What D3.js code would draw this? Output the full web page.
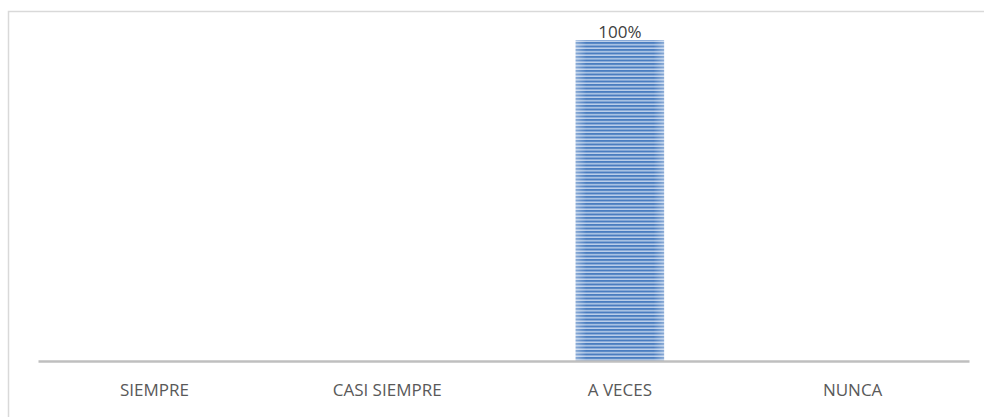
<!DOCTYPE html>
<html>
<head>
<meta charset="utf-8">
<script src="https://cdn.jsdelivr.net/npm/d3@7"></script>
<style>
  body { margin: 0; background: #fff; }
  svg { display: block; }
</style>
</head>
<body>
<div id="chart"></div>
<script>
const categories = ['SIEMPRE', 'CASI SIEMPRE', 'A VECES', 'NUNCA'];
const values = [0, 0, 1, 0];
const valueLabels = ['', '', '100%', ''];

const W = 984, H = 417;
const margin = {top: 40, left: 38, right: 15, bottom: 56};

const svg = d3.select('#chart')
              .append('svg')
              .attr('width', W)
              .attr('height', H);

// striped fill like the office chart
const defs = svg.append('defs');
const grad = defs.append('linearGradient').attr('id', 'shade')
                 .attr('x1', '0').attr('x2', '1').attr('y1', '0').attr('y2', '0');
grad.append('stop').attr('offset', '0%').attr('stop-color', '#fff').attr('stop-opacity', 0.35);
grad.append('stop').attr('offset', '12%').attr('stop-color', '#fff').attr('stop-opacity', 0);
grad.append('stop').attr('offset', '88%').attr('stop-color', '#fff').attr('stop-opacity', 0);
grad.append('stop').attr('offset', '100%').attr('stop-color', '#fff').attr('stop-opacity', 0.35);

const pat = defs.append('pattern').attr('id', 'stripes')
                .attr('patternUnits', 'userSpaceOnUse')
                .attr('width', 10).attr('height', 3.5);
pat.append('rect').attr('width', 10).attr('height', 3.5).attr('fill', '#bcd0ea');
pat.append('rect').attr('width', 10).attr('height', 2).attr('fill', '#4a7dc0');

// outer frame
svg.append('rect')
   .attr('x', 8.5).attr('y', 11.5)
   .attr('width', 1000).attr('height', 500)
   .attr('fill', 'none')
   .attr('stroke', '#d9d9d9')
   .attr('stroke-width', 1.5);

const x = d3.scaleBand()
            .domain(categories)
            .range([margin.left, W - margin.right])
            .paddingInner(0.62)
            .paddingOuter(0.31);

const y = d3.scaleLinear()
            .domain([0, 1])
            .range([H - margin.bottom, margin.top]);

const bars = svg.append('g');
bars.selectAll('rect.bar')
    .data(values)
    .join('rect')
    .attr('class', 'bar')
    .attr('x', (d, i) => x(categories[i]))
    .attr('y', d => y(d))
    .attr('width', x.bandwidth())
    .attr('height', d => y(0) - y(d))
    .attr('fill', 'url(#stripes)');
bars.selectAll('rect.shade')
    .data(values)
    .join('rect')
    .attr('class', 'shade')
    .attr('x', (d, i) => x(categories[i]))
    .attr('y', d => y(d))
    .attr('width', x.bandwidth())
    .attr('height', d => y(0) - y(d))
    .attr('fill', 'url(#shade)');

svg.append('g').selectAll('text')
   .data(values)
   .join('text')
   .attr('x', (d, i) => x(categories[i]) + x.bandwidth() / 2)
   .attr('y', d => y(d) - 2)
   .attr('text-anchor', 'middle')
   .style('font', '17px "Open Sans", sans-serif')
   .style('fill', '#404040')
   .text((d, i) => valueLabels[i]);

const xAxis = svg.append('g')
                 .attr('transform', `translate(0, ${y(0)})`)
                 .call(d3.axisBottom(x).tickSize(0).tickPadding(23).tickSizeOuter(0));
xAxis.select('.domain')
     .attr('stroke', '#bfbfbf')
     .attr('stroke-width', 2.5);
xAxis.selectAll('text')
     .style('font', '17px "Open Sans", sans-serif')
     .style('fill', '#595959');
</script>
</body>
</html>
